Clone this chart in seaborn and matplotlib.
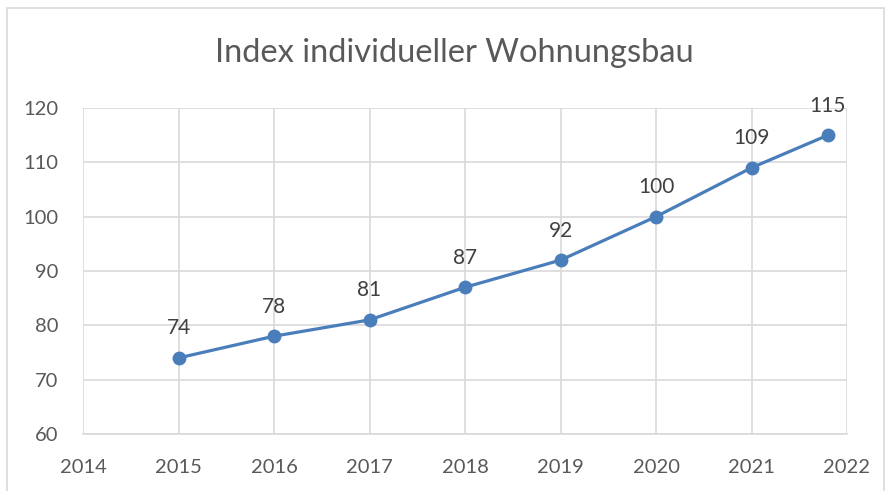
import pandas as pd
import seaborn as sns
import matplotlib.pyplot as plt
from matplotlib.patches import Rectangle

# Index values
years = [2015, 2016, 2017, 2018, 2019, 2020, 2021, 2021.8]
index_values = [74, 78, 81, 87, 92, 100, 109, 115]
x_ticks = [2014, 2015, 2016, 2017, 2018, 2019, 2020, 2021, 2022]
y_ticks = [60, 70, 80, 90, 100, 110, 120]

df = pd.DataFrame({'Jahr': years, 'Index': index_values})

sns.set_theme(style="whitegrid")
plt.rcParams['font.family'] = ['Lato', 'DejaVu Sans']

fig = plt.figure(figsize=(8.88, 4.91), dpi=100)
ax = fig.add_axes([83 / 888, 1 - 434 / 491, (847 - 83) / 888, (434 - 108) / 491])

line_color = '#4a7ebb'
sns.lineplot(data=df, x='Jahr', y='Index', ax=ax, color=line_color, linewidth=2.3,
             marker='o', markersize=10, markeredgewidth=0, zorder=3)

for x, y in zip(years, index_values):
    ax.annotate(str(y), (x, y), xytext=(0, 14), textcoords='offset points',
                ha='center', va='bottom', fontsize=15, color='#404040')

ax.set_xlim(2014, 2022)
ax.set_ylim(60, 120)
ax.set_xticks(x_ticks)
ax.set_yticks(y_ticks)
ax.grid(True, color='#d9d9d9', linewidth=1.2)
for s in ax.spines.values():
    s.set_visible(False)
ax.spines['bottom'].set_visible(True)
ax.spines['bottom'].set_color('#d9d9d9')
ax.spines['bottom'].set_linewidth(1.2)
ax.tick_params(axis='x', labelsize=14.5, labelcolor='#595959', pad=18, length=0)
ax.tick_params(axis='y', labelsize=14.5, labelcolor='#595959', pad=18, length=0)
ax.set_xlabel('')
ax.set_ylabel('')

fig.text(454 / 888, 1 - 53 / 491, 'Index individueller Wohnungsbau', ha='center', va='center',
         fontsize=23.5, color='#595959')

# outer chart frame
fig.patches.append(Rectangle((7 / 888, -0.05), (884 - 7) / 888, 1.05 - 8 / 491,
                             transform=fig.transFigure, fill=False,
                             edgecolor='#d9d9d9', linewidth=1.2))

fig.savefig('out.png', dpi=100)
